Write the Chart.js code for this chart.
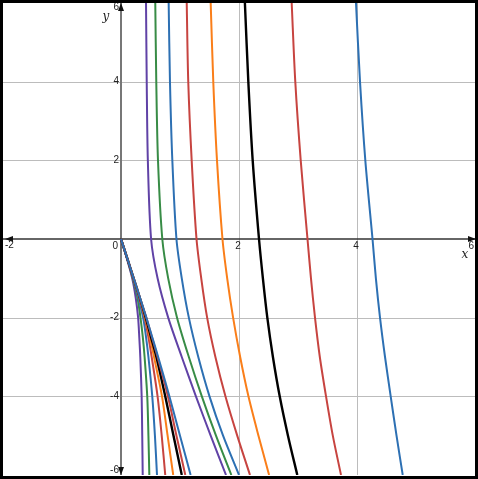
<!DOCTYPE html>
<html>
<head>
<meta charset="utf-8">
<script src="https://cdn.jsdelivr.net/npm/chart.js@4.4.1/dist/chart.umd.min.js"></script>
<style>
  html, body { margin: 0; padding: 0; background: #fff; }
  #wrap { width: 478px; height: 479px; position: relative; }
</style>
</head>
<body>
<div id="wrap"><canvas id="c"></canvas></div>
<script>
// Achsenbereich
const xMin = -2, xMax = 6, yMin = -6, yMax = 6;
const xTicks = [-2, 2, 4, 6];
const yTicks = [6, 4, 2, -2, -4, -6];

// obere Kurvenschar (von oben kommend), x-Werte je y-Stufe
const yUpper = [6, 4, 2, 0, -1, -2, -3, -4, -5, -6];
const upPurple = [0.424, 0.436, 0.455, 0.51, 0.62, 0.80, 1.03, 1.27, 1.52, 1.78];
const upGreen  = [0.581, 0.598, 0.627, 0.70, 0.80, 0.95, 1.15, 1.37, 1.61, 1.87];
const upBlue   = [0.808, 0.83, 0.87, 0.94, 1.03, 1.15, 1.31, 1.50, 1.73, 2.0];
const upRed    = [1.114, 1.14, 1.198, 1.28, 1.36, 1.46, 1.60, 1.77, 1.97, 2.186];
const upOrange = [1.52, 1.564, 1.627, 1.72, 1.80, 1.90, 2.02, 2.16, 2.33, 2.51];
const upBlack  = [2.10, 2.158, 2.232, 2.339, 2.405, 2.48, 2.575, 2.69, 2.83, 2.988];
const upRed2   = [2.893, 2.954, 3.046, 3.161, 3.22, 3.288, 3.37, 3.475, 3.59, 3.729];
const upBlue2  = [3.983, 4.051, 4.141, 4.263, 4.32, 4.39, 4.475, 4.571, 4.67, 4.775];

// untere Kurvenschar (aus dem Ursprung)
const yLower = [0, -0.5, -1, -1.5, -2, -2.5, -3, -4, -5, -6];
const lowPurple = [0, 0.10, 0.19, 0.25, 0.29, 0.31, 0.327, 0.35, 0.36, 0.368];
const lowGreen  = [0, 0.105, 0.20, 0.28, 0.33, 0.37, 0.40, 0.445, 0.465, 0.48];
const lowBlue   = [0, 0.105, 0.205, 0.295, 0.375, 0.425, 0.465, 0.53, 0.575, 0.61];
const lowRed    = [0, 0.107, 0.21, 0.31, 0.40, 0.465, 0.52, 0.62, 0.69, 0.75];
const lowOrange = [0, 0.108, 0.21, 0.315, 0.41, 0.49, 0.56, 0.695, 0.79, 0.885];
const lowBlack  = [0, 0.108, 0.215, 0.32, 0.42, 0.51, 0.60, 0.75, 0.89, 1.03];
const lowRed2   = [0, 0.108, 0.215, 0.322, 0.43, 0.525, 0.62, 0.795, 0.94, 1.09];
const lowBlue2  = [0, 0.108, 0.215, 0.323, 0.43, 0.53, 0.63, 0.82, 1.0, 1.18];

const PURPLE = '#6042a6', GREEN = '#388c46', BLUE = '#2d70b3',
      RED = '#c74440', ORANGE = '#fa7e19', BLACK = '#000000';

function pts(xs, ys) {
    return xs.map((x, i) => ({ x: x, y: ys[i] }));
}

function curve(xs, ys, color, width) {
    return {
        data: pts(xs, ys),
        borderColor: color,
        backgroundColor: color,
        borderWidth: width || 2,
        pointRadius: 0,
        showLine: true,
        fill: false,
        tension: 0.3
    };
}

const datasets = [
    // Index 0 liegt oben -> Einhuellende zuerst
    curve(lowBlue2, yLower, BLUE),
    curve(lowRed2, yLower, RED),
    curve(lowBlack, yLower, BLACK, 2.4),
    curve(lowOrange, yLower, ORANGE),
    curve(lowRed, yLower, RED),
    curve(lowBlue, yLower, BLUE),
    curve(lowGreen, yLower, GREEN),
    curve(lowPurple, yLower, PURPLE),
    curve(upPurple, yUpper, PURPLE),
    curve(upGreen, yUpper, GREEN),
    curve(upBlue, yUpper, BLUE),
    curve(upRed, yUpper, RED),
    curve(upOrange, yUpper, ORANGE),
    curve(upBlack, yUpper, BLACK, 2.4),
    curve(upRed2, yUpper, RED),
    curve(upBlue2, yUpper, BLUE)
];

function arrow(ctx, tx, ty, dx, dy) {
    // Pfeilspitze bei (tx,ty), Richtung (dx,dy)
    const len = 8, half = 3;
    const bx = tx - dx * len, by = ty - dy * len;
    ctx.beginPath();
    ctx.moveTo(tx, ty);
    ctx.lineTo(bx - dy * half, by + dx * half);
    ctx.lineTo(bx + dy * half, by - dx * half);
    ctx.closePath();
    ctx.fill();
}

const axesPlugin = {
    id: 'axesPlugin',
    beforeDatasetsDraw(chart) {
        const ctx = chart.ctx;
        const sx = chart.scales.x, sy = chart.scales.y;
        const a = chart.chartArea;
        ctx.save();
        // Gitter
        ctx.strokeStyle = '#bcbcbc';
        ctx.lineWidth = 1;
        [2, 4].forEach(v => {
            const px = Math.round(sx.getPixelForValue(v)) + 0.5;
            ctx.beginPath(); ctx.moveTo(px, a.top); ctx.lineTo(px, a.bottom); ctx.stroke();
        });
        [4, 2, -2, -4].forEach(v => {
            const py = Math.round(sy.getPixelForValue(v)) + 0.5;
            ctx.beginPath(); ctx.moveTo(a.left, py); ctx.lineTo(a.right, py); ctx.stroke();
        });
        // y-Achse
        const x0 = sx.getPixelForValue(0), y0 = sy.getPixelForValue(0);
        ctx.strokeStyle = '#777777';
        ctx.lineWidth = 2;
        ctx.beginPath(); ctx.moveTo(x0, a.top); ctx.lineTo(x0, a.bottom); ctx.stroke();
        // x-Achse
        ctx.strokeStyle = '#333333';
        ctx.lineWidth = 1.5;
        ctx.beginPath(); ctx.moveTo(a.left, y0); ctx.lineTo(a.right, y0); ctx.stroke();
        ctx.restore();
    },
    afterDatasetsDraw(chart) {
        const ctx = chart.ctx;
        const sx = chart.scales.x, sy = chart.scales.y;
        const a = chart.chartArea;
        const x0 = sx.getPixelForValue(0), y0 = sy.getPixelForValue(0);
        ctx.save();
        ctx.fillStyle = '#111';
        arrow(ctx, x0, a.top, 0, -1);
        arrow(ctx, x0, a.bottom, 0, 1);
        arrow(ctx, a.right + 1, y0, 1, 0);
        arrow(ctx, a.left + 2, y0, -1, 0);

        // Beschriftung
        ctx.fillStyle = '#222';
        ctx.font = '10px "Liberation Sans", Arial, sans-serif';
        ctx.textAlign = 'right';
        ctx.textBaseline = 'middle';
        yTicks.forEach(v => {
            let py = sy.getPixelForValue(v);
            if (v === yMax) py = a.top + 4;
            if (v === yMin) py = a.bottom - 5;
            ctx.fillText(String(v), x0 - 2, py);
        });
        ctx.fillText('0', x0 - 3, y0 + 7);
        xTicks.forEach(v => {
            const px = sx.getPixelForValue(v);
            if (v === xMin) { ctx.textAlign = 'left'; ctx.fillText(String(v), px + 2, y0 + 6); }
            else if (v === xMax) { ctx.textAlign = 'right'; ctx.fillText(String(v), px - 1, y0 + 7); }
            else { ctx.textAlign = 'center'; ctx.fillText(String(v), px - 1, y0 + 7); }
        });
        ctx.font = 'italic 12px "DejaVu Serif", "Liberation Serif", serif';
        ctx.textAlign = 'center';
        ctx.fillText('x', sx.getPixelForValue(xMax) - 10, y0 + 16);
        ctx.fillText('y', x0 - 15, a.top + 14);

        // Rahmen
        ctx.strokeStyle = '#000';
        ctx.lineWidth = 3;
        ctx.strokeRect(1.5, 1.5, 475, 476);
        ctx.restore();
    }
};

new Chart(document.getElementById('c'), {
    type: 'scatter',
    data: { datasets: datasets },
    options: {
        responsive: true,
        maintainAspectRatio: false,
        animation: false,
        layout: { padding: { left: 3, right: 3, top: 3, bottom: 4 } },
        plugins: { legend: { display: false }, tooltip: { enabled: false } },
        scales: {
            x: { type: 'linear', min: xMin, max: xMax, display: false },
            y: { type: 'linear', min: yMin, max: yMax, display: false }
        }
    },
    plugins: [axesPlugin]
});
</script>
</body>
</html>
